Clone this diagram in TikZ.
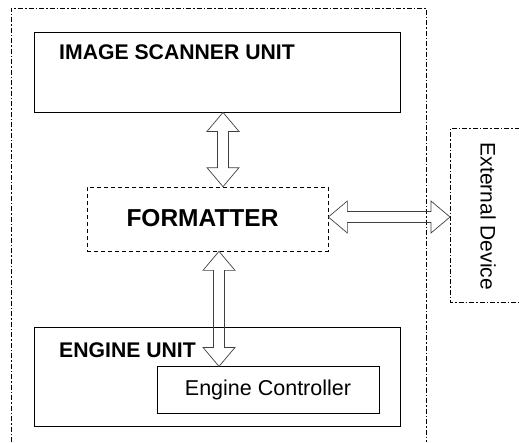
\documentclass[tikz,border=0pt]{standalone}
\usepackage{fontspec}
\setmainfont{Liberation Sans}
\usetikzlibrary{calc}
\tikzset{
  unit/.style={draw,line width=0.8pt,inner sep=0pt},
  title/.style={anchor=base west,inner sep=0pt,font=\bfseries\fontsize{21.2}{25}\selectfont},
  dashdot/.style={line width=0.7pt,dash pattern=on 5pt off 2pt on 1.5pt off 2pt},
  hollow/.style={draw=black!75,line width=0.7pt,to path={
    ($(\tikztostart)!19pt!(\tikztotarget)$) coordinate (hs)
    ($(\tikztotarget)!19pt!(\tikztostart)$) coordinate (he)
    (\tikztostart) -- ($(hs)!16pt!90:(\tikztotarget)$) -- ($(hs)!5.5pt!90:(\tikztotarget)$)
    -- ($(he)!5.5pt!-90:(\tikztostart)$) -- ($(he)!16pt!-90:(\tikztostart)$) -- (\tikztotarget)
    -- ($(he)!16pt!90:(\tikztostart)$) -- ($(he)!5.5pt!90:(\tikztostart)$)
    -- ($(hs)!5.5pt!-90:(\tikztotarget)$) -- ($(hs)!16pt!-90:(\tikztotarget)$) -- cycle}},
}
\begin{document}
\begin{tikzpicture}[x=1pt,y=-1pt]
\useasboundingbox (0,0) rectangle (519,442);
\draw[dashdot] (11,442) -- (11,8) -- (426,8) -- (426,442);
\draw[dashdot] (530,128) -- (450,128) -- (450,302) -- (530,302);

\node[unit,minimum width=366pt,minimum height=80pt] (scanner) at (217,72) {};
\node[title] (scannertitle) at (59,59) {IMAGE SCANNER UNIT};

\node[draw,line width=0.7pt,dash pattern=on 4pt off 3pt,minimum width=241pt,minimum height=64pt] (formatter) at (207.5,219) {};
\node[font=\bfseries\fontsize{24.5}{28}\selectfont,inner sep=0pt] (formattertitle) at (202.5,218.5) {FORMATTER};

\node[unit,minimum width=366pt,minimum height=99pt] (engine) at (217,376.5) {};
\node[title] (enginetitle) at (59,357.7) {ENGINE UNIT};
\node[unit,minimum width=222pt,minimum height=47pt,fill=white,font=\fontsize{21.5}{25}\selectfont] (ctrl) at (268,390.3) {Engine Controller};

\node[rotate=-90,font=\fontsize{21}{25}\selectfont] (ext) at (488,216.5) {External Device};
\coordinate (extin) at (450,217);

\draw[hollow] (223,0 |- scanner.south) to (223,0 |- formatter.north);
\draw[hollow] (219,0 |- formatter.south) to (219,0 |- ctrl.north);
\draw[hollow] (formatter.east |- extin) to (extin);
\end{tikzpicture}
\end{document}
